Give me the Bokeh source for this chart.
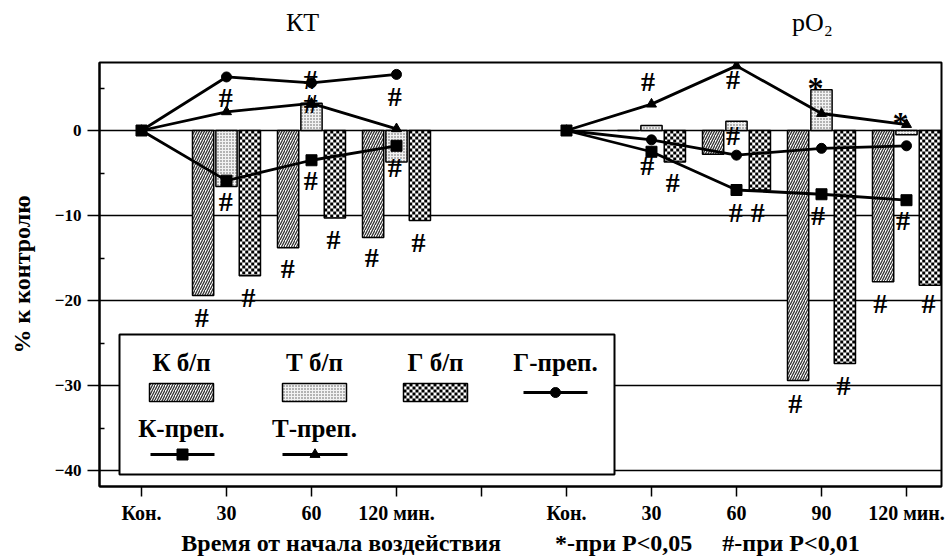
from bokeh.plotting import figure
from bokeh.models import Range1d, FixedTicker, LinearAxis, ColumnDataSource
from bokeh.transform import dodge
from bokeh.core.properties import value
from bokeh.embed import file_html
from bokeh.resources import INLINE

# ---------------------------------------------------------------- data
# one shared x axis holding both panels: КТ (0..3) and pO2 (5..9)
tick_pos = [0, 1, 2, 3, 4, 5, 6, 7, 8, 9]
tick_labels = ["Кон.", "30", "60", "120 мин.", "", "Кон.", "30", "60", "90", "120 мин."]

# КТ panel: bars (б/п) at 30, 60, 120 min
kt_times = [1, 2, 3]
kt_k_bp = [-19.4, -13.8, -12.6]
kt_t_bp = [-6.6, 3.2, -3.7]
kt_g_bp = [-17.1, -10.3, -10.6]

# КТ panel: drug lines (преп.) from control
kt_line_x = [0, 1, 2, 3]
kt_k_prep = [0.0, -5.9, -3.5, -1.8]
kt_t_prep = [0.0, 2.2, 3.2, 0.2]
kt_g_prep = [0.0, 6.3, 5.6, 6.6]

# pO2 panel: bars at 30, 60, 90, 120 min
po2_times = [6, 7, 8, 9]
po2_k_bp = [0.0, -2.8, -29.4, -17.8]
po2_t_bp = [0.6, 1.1, 4.8, -0.5]
po2_g_bp = [-3.7, -7.0, -27.4, -18.2]

# pO2 panel: drug lines
po2_line_x = [5, 6, 7, 8, 9]
po2_k_prep = [0.0, -2.5, -7.0, -7.5, -8.2]
po2_t_prep = [0.0, 3.1, 7.6, 2.0, 0.7]
po2_g_prep = [0.0, -1.1, -2.9, -2.1, -1.8]

# significance marks: # (P<0.01)
hash_x = [0.71, 1.26, 0.99, 0.99, 1.99, 1.99, 1.99, 1.72, 2.26, 2.98, 2.98, 2.71, 3.26,
          5.96, 6.96, 6.96, 5.95, 6.25, 6.99, 7.25, 7.96, 8.96, 8.69, 9.26, 7.69, 8.26]
hash_y = [-22.0, -19.6, -8.4, 3.9, 6.0, 3.2, -5.9, -16.2, -12.8, 4.0, -4.4, -14.9, -13.2,
          5.8, 6.0, -0.6, -4.1, -6.1, -9.6, -9.6, -10.0, -10.6, -20.4, -20.4, -32.1, -30.0]
# significance marks: * (P<0.05)
star_x = [7.93, 8.93]
star_y = [5.5, 1.4]

panel_titles = ["КТ", "pO₂"]
x_caption = "Время от начала воздействия" + "\u00a0" * 9 + "*-при P<0,05" + "\u00a0" * 5 + "#-при P<0,01"

# ---------------------------------------------------------------- layout
W, H = 947, 560
LEFT, RIGHT, TOP, BOTTOM = 99, 6, 62, 74
PX_X, PX_Y = 85.0, 8.5
X0 = -0.494
Y1 = 8.0
X1 = X0 + (W - LEFT - RIGHT) / PX_X
Y0 = Y1 - (H - TOP - BOTTOM) / PX_Y

def sx(px):
    return X0 + (px - LEFT) / PX_X

def sy(py):
    return Y1 - (py - TOP) / PX_Y

FONT = "Liberation Serif"
SERIF = value(FONT)
BAR_W = 0.25
OFFSET = 0.275
CELL_PX = 3.0

STYLE_K = dict(fill_color="white", hatch_pattern="right_diagonal_line", hatch_color="#333333",
               hatch_scale=5, hatch_weight=1.3)
STYLE_T = dict(fill_color="#f2f2f2", hatch_pattern="dot", hatch_color="#555555",
               hatch_scale=3, hatch_weight=0.9)

p = figure(width=W, height=H, x_range=Range1d(X0, X1), y_range=Range1d(Y0, Y1),
           output_backend="svg", toolbar_location=None,
           min_border_left=LEFT, min_border_right=RIGHT,
           min_border_top=TOP, min_border_bottom=BOTTOM)
p.background_fill_color = "white"
p.border_fill_color = "white"
p.outline_line_color = "black"
p.outline_line_width = 2

# grid: horizontal lines at every 10 %
p.xgrid.visible = False
p.ygrid.ticker = FixedTicker(ticks=[0, -10, -20, -30, -40])
p.ygrid.grid_line_color = "black"
p.ygrid.grid_line_width = 1.5

# y axis
p.yaxis.ticker = FixedTicker(ticks=[0, -10, -20, -30, -40], minor_ticks=[5, -5, -15, -25, -35])
p.yaxis.axis_line_color = "black"
p.yaxis.axis_line_width = 2
p.yaxis.major_tick_out = 12
p.yaxis.major_tick_in = 0
p.yaxis.minor_tick_in = 5
p.yaxis.minor_tick_out = 0
p.yaxis.major_tick_line_width = 1.5
p.yaxis.minor_tick_line_width = 1.5
p.yaxis.major_label_standoff = 6
p.yaxis.major_label_text_font = FONT
p.yaxis.major_label_text_font_style = "bold"
p.yaxis.major_label_text_font_size = "17px"
p.yaxis.major_label_text_color = "black"
p.yaxis.axis_label = "% к контролю"
p.yaxis.axis_label_text_font = FONT
p.yaxis.axis_label_text_font_style = "bold"
p.yaxis.axis_label_text_font_size = "24px"
p.yaxis.axis_label_text_color = "black"
p.yaxis.axis_label_standoff = 17

# x axis
p.xaxis.ticker = FixedTicker(ticks=tick_pos)
p.xaxis.major_label_overrides = {t: l for t, l in zip(tick_pos, tick_labels)}
p.xaxis.axis_line_color = "black"
p.xaxis.axis_line_width = 2
p.xaxis.major_tick_out = 10
p.xaxis.major_tick_in = 0
p.xaxis.major_tick_line_width = 1.5
p.xaxis.minor_tick_line_color = None
p.xaxis.major_label_standoff = 5
p.xaxis.major_label_text_font = FONT
p.xaxis.major_label_text_font_style = "bold"
p.xaxis.major_label_text_font_size = "20px"
p.xaxis.major_label_text_color = "black"
p.xaxis.axis_label = x_caption
p.xaxis.axis_label_text_font = FONT
p.xaxis.axis_label_text_font_style = "bold"
p.xaxis.axis_label_text_font_size = "24px"
p.xaxis.axis_label_text_color = "black"
p.xaxis.axis_label_standoff = 3

# panel titles as a bare axis above the frame
title_pos = [sx(302), sx(812)]
top_axis = LinearAxis(ticker=FixedTicker(ticks=title_pos),
                      major_label_overrides={t: s for t, s in zip(title_pos, panel_titles)},
                      axis_line_color=None, major_tick_line_color=None, minor_tick_line_color=None,
                      major_tick_out=0, major_tick_in=0,
                      major_label_standoff=26, major_label_text_font=FONT,
                      major_label_text_font_size="26px", major_label_text_color="black")
p.add_layout(top_axis, "above")


def checker(left, right, top, bottom):
    """Black/white checkerboard cells filling a rectangle given in data units."""
    dx = CELL_PX / PX_X
    dy = CELL_PX / PX_Y
    ql, qr, qt, qb = [], [], [], []
    r = 0
    while top - r * dy > bottom + 1e-9:
        c_top = top - r * dy
        c_bot = max(top - (r + 1) * dy, bottom)
        c = 0
        while left + c * dx < right - 1e-9:
            if (r + c) % 2 == 0:
                ql.append(left + c * dx)
                qr.append(min(left + (c + 1) * dx, right))
                qt.append(c_top)
                qb.append(c_bot)
            c += 1
        r += 1
    p.quad(left=ql, right=qr, top=qt, bottom=qb, fill_color="black", line_color=None)


# bars
def bars(times, k, t, g):
    src = ColumnDataSource(dict(x=times, k=k, t=t, g=g))
    p.vbar(x=dodge("x", -OFFSET, range=p.x_range), top="k", bottom=0, width=BAR_W, source=src,
           line_color="black", line_width=1.5, **STYLE_K)
    p.vbar(x=dodge("x", 0.0, range=p.x_range), top="t", bottom=0, width=BAR_W, source=src,
           line_color="black", line_width=1.5, **STYLE_T)
    p.vbar(x=dodge("x", OFFSET, range=p.x_range), top="g", bottom=0, width=BAR_W, source=src,
           fill_color="white", line_color=None)
    for xc, v in zip(times, g):
        xg = xc + OFFSET
        checker(xg - BAR_W / 2, xg + BAR_W / 2, max(v, 0.0), min(v, 0.0))
    p.vbar(x=dodge("x", OFFSET, range=p.x_range), top="g", bottom=0, width=BAR_W, source=src,
           fill_color=None, line_color="black", line_width=1.5)

bars(kt_times, kt_k_bp, kt_t_bp, kt_g_bp)
bars(po2_times, po2_k_bp, po2_t_bp, po2_g_bp)

# drug lines
def drug_line(xs, ys, marker, size):
    p.line(xs, ys, line_color="black", line_width=2.8)
    p.scatter(xs, ys, marker=marker, size=size, fill_color="black", line_color="black")

drug_line(kt_line_x, kt_g_prep, "circle", 10)
drug_line(kt_line_x, kt_t_prep, "triangle", 10)
drug_line(kt_line_x, kt_k_prep, "square", 11)
drug_line(po2_line_x, po2_g_prep, "circle", 10)
drug_line(po2_line_x, po2_t_prep, "triangle", 10)
drug_line(po2_line_x, po2_k_prep, "square", 11)

# significance marks
p.text(hash_x, hash_y, text=["#"] * len(hash_x), text_align="center", text_baseline="middle",
       text_font=SERIF, text_font_size="28px", text_font_style="bold", text_color="black")
p.text(star_x, star_y, text=["*"] * len(star_x), text_align="center", text_baseline="middle",
       y_offset=4, text_font=SERIF, text_font_size="32px", text_font_style="bold", text_color="black")

# legend box
p.quad(left=[sx(119)], right=[sx(614)], top=[sy(334)], bottom=[sy(474)],
       fill_color="white", line_color="black", line_width=2)

legend_text = dict(text_align="center", text_baseline="middle", text_font=SERIF,
                   text_font_size="25px", text_font_style="bold", text_color="black")
p.text([sx(181), sx(314), sx(435), sx(555)], [sy(362)] * 4,
       text=["К б/п", "Т б/п", "Г б/п", "Г-преп."], **legend_text)
p.text([sx(181), sx(314)], [sy(428)] * 2, text=["К-преп.", "Т-преп."], **legend_text)

for (l, r), style in zip([(149, 213), (282, 346)], [STYLE_K, STYLE_T]):
    p.quad(left=[sx(l)], right=[sx(r)], top=[sy(383)], bottom=[sy(401)],
           line_color="black", line_width=1.5, **style)
checker(sx(403), sx(467), sy(383), sy(401))
p.quad(left=[sx(403)], right=[sx(467)], top=[sy(383)], bottom=[sy(401)],
       fill_color=None, line_color="black", line_width=1.5)

for (l, r, yy, marker, size) in [(523, 587, 392, "circle", 10), (150, 214, 454, "square", 11),
                                  (282, 347, 454, "triangle", 10)]:
    p.line([sx(l), sx(r)], [sy(yy), sy(yy)], line_color="black", line_width=2.8)
    p.scatter([sx((l + r) / 2)], [sy(yy)], marker=marker, size=size,
              fill_color="black", line_color="black")

open("out.html", "w").write(file_html(p, INLINE))
